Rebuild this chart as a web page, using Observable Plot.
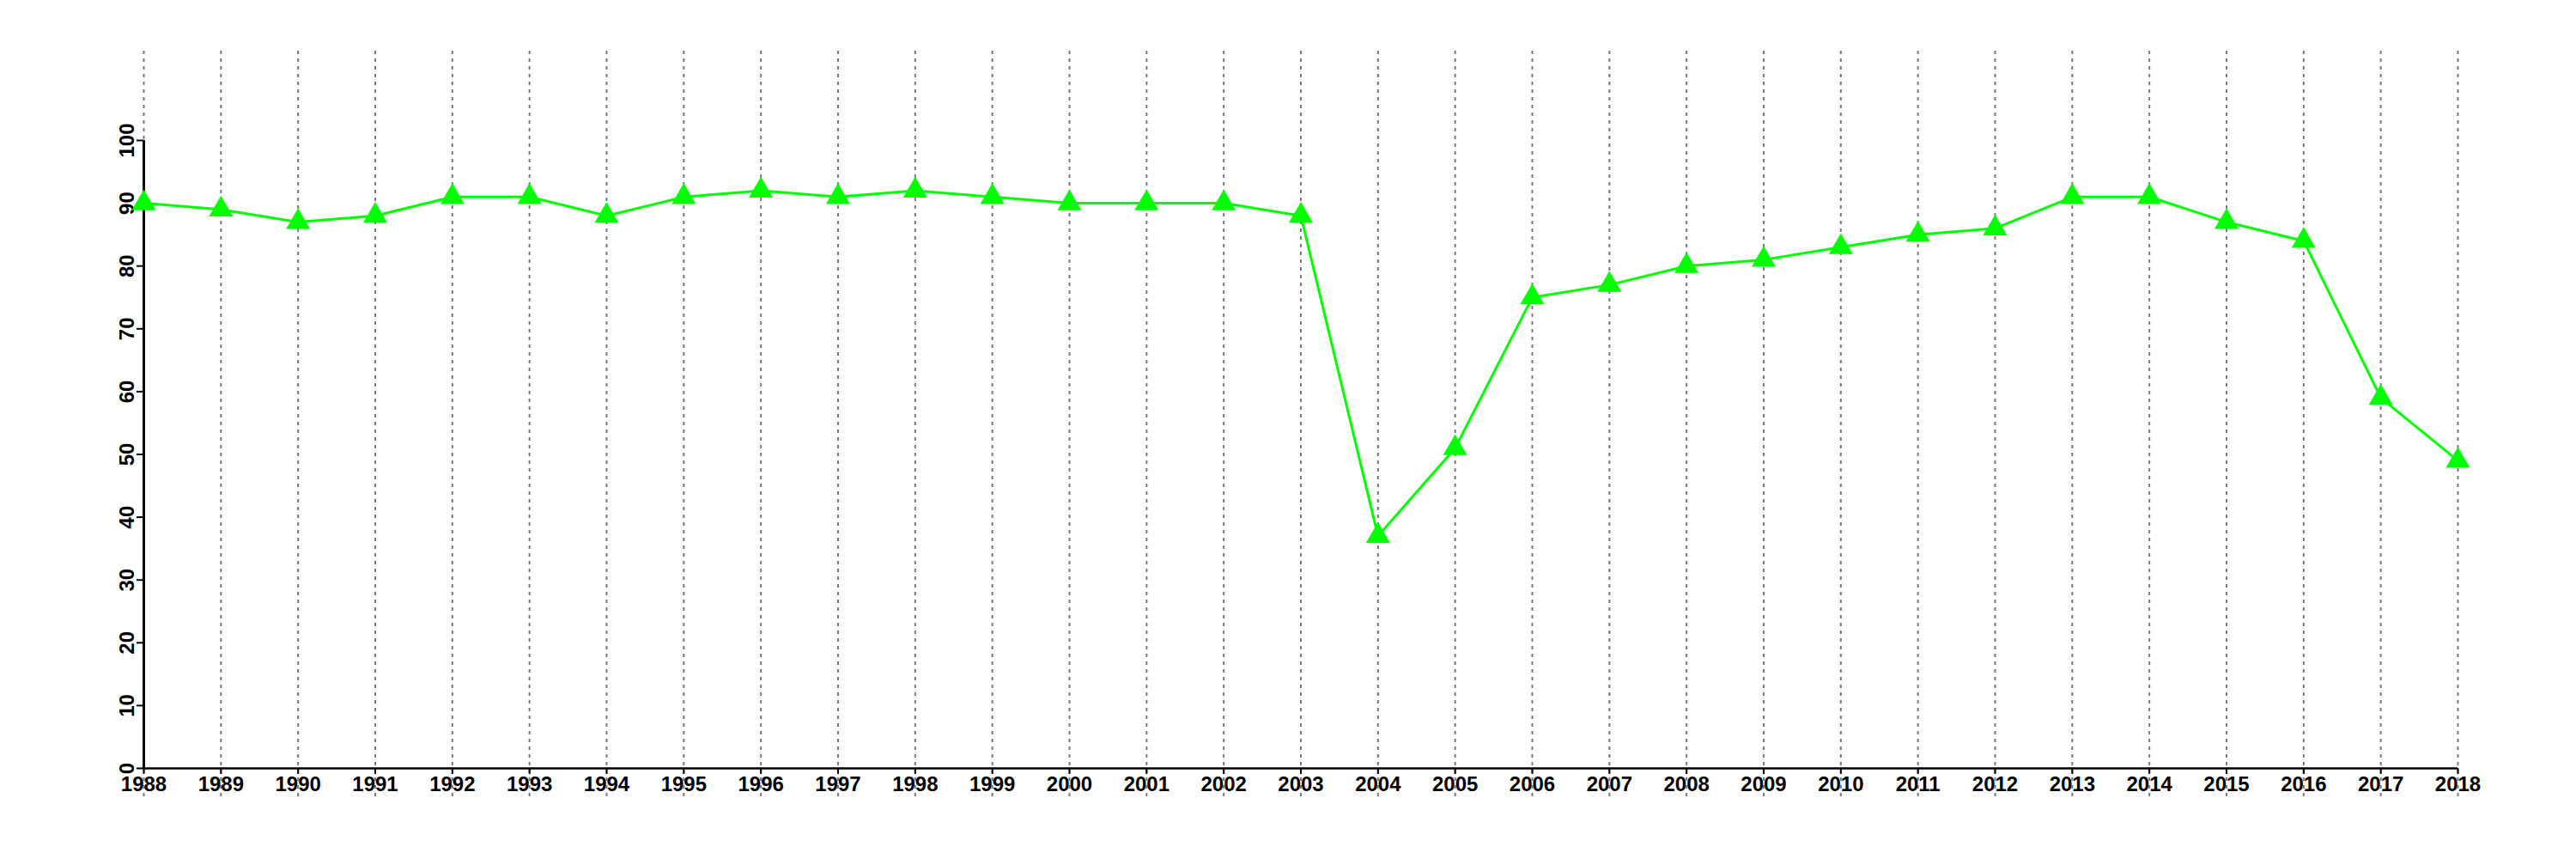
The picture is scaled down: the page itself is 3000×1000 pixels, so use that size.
<!DOCTYPE html>
<html>
<head>
<meta charset="utf-8">
<script src="https://cdn.jsdelivr.net/npm/d3@7"></script>
<script src="https://cdn.jsdelivr.net/npm/@observablehq/plot@0.6"></script>
<style>
  html, body { margin: 0; padding: 0; background: #fff; }
</style>
</head>
<body>
<div id="chart"></div>
<script>
const years = [1988,1989,1990,1991,1992,1993,1994,1995,1996,1997,1998,1999,2000,2001,2002,2003,2004,2005,2006,2007,2008,2009,2010,2011,2012,2013,2014,2015,2016,2017,2018];
const values = [90,89,87,88,91,91,88,91,92,91,92,91,90,90,90,88,37,51,75,77,80,81,83,85,86,91,91,87,84,59,49];
const yTicks = [0,10,20,30,40,50,60,70,80,90,100];

const data = years.map((y, i) => ({year: y, value: values[i]}));

const chart = Plot.plot({
  width: 3000,
  height: 1000,
  marginLeft: 167,
  marginRight: 138,
  marginTop: 163,
  marginBottom: 106,
  style: {fontFamily: "'Liberation Sans', Arial, sans-serif", fontSize: "24px", fontWeight: "bold", color: "#000", background: "#fff"},
  x: {domain: [years[0], years[years.length - 1]]},
  y: {domain: [yTicks[0], yTicks[yTicks.length - 1]]},
  marks: [
    Plot.ruleX(years, {stroke: "#7a7a7a", strokeWidth: 2, strokeDasharray: "4,5", insetTop: -104, insetBottom: -33}),
    Plot.axisX({ticks: years, tickFormat: d => String(d), tickSize: 7, tickPadding: 2, label: null, fontSize: 24, fontWeight: "bold", stroke: "#000", strokeWidth: 2}),
    Plot.axisY({ticks: yTicks, tickSize: 8, tickPadding: 4, tickRotate: -90, label: null, fontSize: 24, fontWeight: "bold", stroke: "#000", strokeWidth: 2}),
    Plot.ruleX([years[0]], {stroke: "#000", strokeWidth: 3}),
    Plot.ruleY([yTicks[0]], {stroke: "#000", strokeWidth: 2.5}),
    Plot.line(data, {x: "year", y: "value", stroke: "#00ff00", strokeWidth: 3}),
    Plot.dot(data, {x: "year", y: "value", symbol: "triangle", r: 10.4, fill: "#00ff00", stroke: "none"})
  ]
});
document.getElementById("chart").appendChild(chart);
</script>
</body>
</html>
